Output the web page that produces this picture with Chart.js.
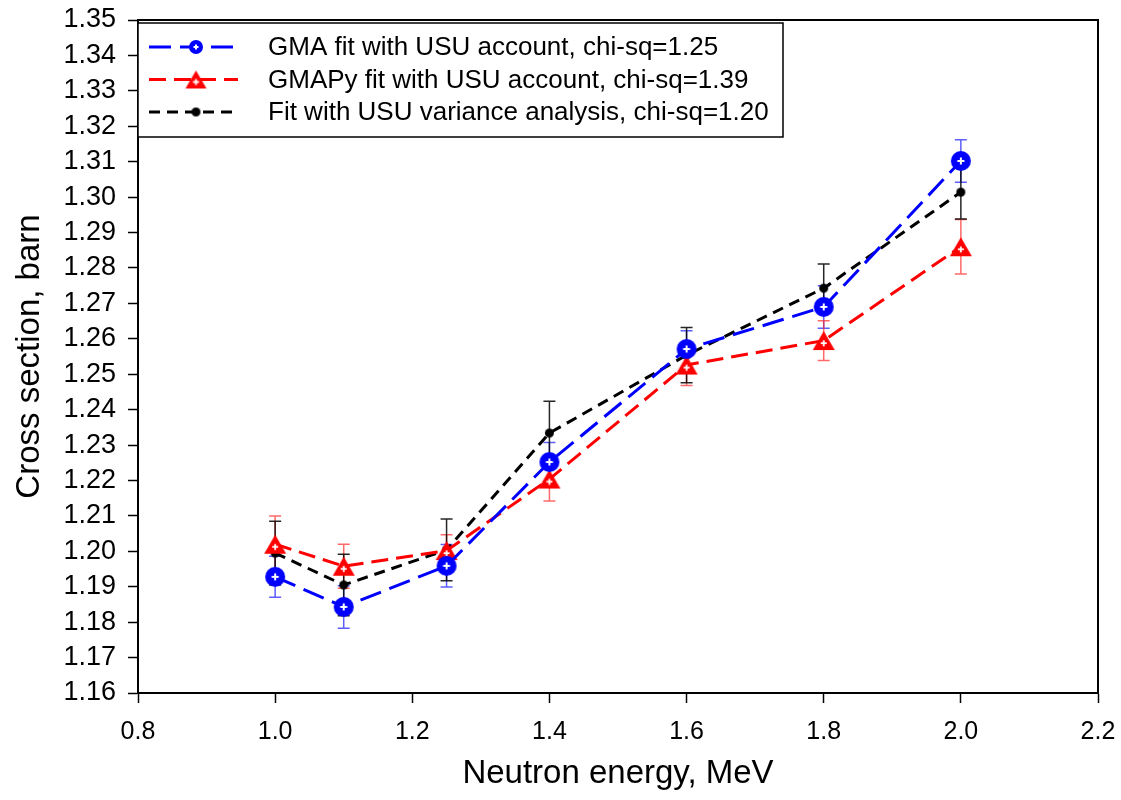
<!DOCTYPE html>
<html>
<head>
<meta charset="utf-8">
<script src="https://cdn.jsdelivr.net/npm/chart.js@4"></script>
<style>
  body { margin: 0; background: #fff; }
  #wrap { width: 1121px; height: 800px; }
</style>
</head>
<body>
<div id="wrap"><canvas id="crossChart"></canvas></div>
<script>
// neutron energies (MeV)
const energies = [1.0, 1.1, 1.25, 1.4, 1.6, 1.8, 2.0];

// GMA fit with USU account
const gmaValues = [1.1928, 1.1843, 1.1959, 1.2252, 1.2571, 1.2690, 1.3102];
const gmaErrors = [0.0058, 0.0060, 0.0060, 0.0055, 0.0052, 0.0060, 0.0060];

// GMAPy fit with USU account
const gmapyValues = [1.2020, 1.1958, 1.2002, 1.2204, 1.2526, 1.2595, 1.2860];
const gmapyErrors = [0.0080, 0.0062, 0.0045, 0.0062, 0.0058, 0.0056, 0.0077];

// Fit with USU variance analysis
const usuValues = [1.1995, 1.1905, 1.2004, 1.2334, 1.2554, 1.2743, 1.3014];
const usuErrors = [0.0090, 0.0087, 0.0087, 0.0090, 0.0078, 0.0068, 0.0076];

const legendLabels = [
    'GMA fit with USU account, chi-sq=1.25',
    'GMAPy fit with USU account, chi-sq=1.39',
    'Fit with USU variance analysis, chi-sq=1.20'
];

const FONT = '"Liberation Sans", Arial, sans-serif';

function toPoints(values) {
    return energies.map((e, i) => ({ x: e, y: values[i] }));
}

// marker images: filled shape with a small white cross
function circleMarker(r, cross) {
    const c = document.createElement('canvas');
    c.width = c.height = r * 2 + 2;
    const g = c.getContext('2d');
    const m = r + 1;
    g.fillStyle = '#0000ff';
    g.beginPath();
    g.arc(m, m, r, 0, Math.PI * 2);
    g.fill();
    g.strokeStyle = '#ffffff';
    g.lineWidth = 2;
    g.beginPath();
    g.moveTo(m - cross, m); g.lineTo(m + cross, m);
    g.moveTo(m, m - cross); g.lineTo(m, m + cross);
    g.stroke();
    return c;
}

function triangleMarker(w) {
    const h = Math.round(w * 0.85);
    const c = document.createElement('canvas');
    c.width = w + 2;
    c.height = h + 2;
    const g = c.getContext('2d');
    g.fillStyle = '#ff0000';
    g.beginPath();
    g.moveTo(w / 2 + 1, 1);
    g.lineTo(w + 1, h + 1);
    g.lineTo(1, h + 1);
    g.closePath();
    g.fill();
    const cx = w / 2 + 1, cy = h * 0.64 + 1, s = 3;
    g.strokeStyle = '#ffffff';
    g.lineWidth = 1.8;
    g.beginPath();
    g.moveTo(cx - s, cy); g.lineTo(cx + s, cy);
    g.moveTo(cx, cy - s); g.lineTo(cx, cy + s);
    g.stroke();
    return c;
}

function dotMarker(r) {
    const c = document.createElement('canvas');
    c.width = c.height = r * 2 + 2;
    const g = c.getContext('2d');
    g.fillStyle = '#000000';
    g.beginPath();
    g.arc(r + 1, r + 1, r, 0, Math.PI * 2);
    g.fill();
    return c;
}

const series = [
    { label: legendLabels[0], values: gmaValues, errors: gmaErrors, color: '#0000ff', barColor: 'rgba(40,40,255,0.75)', dash: [22, 9], mark: circleMarker(10, 3.5), legMark: circleMarker(7, 2.5) },
    { label: legendLabels[1], values: gmapyValues, errors: gmapyErrors, color: '#ff0000', barColor: 'rgba(255,40,40,0.7)', dash: [17, 8], mark: triangleMarker(22), legMark: triangleMarker(21) },
    { label: legendLabels[2], values: usuValues, errors: usuErrors, color: '#000000', barColor: 'rgba(0,0,0,0.85)', dash: [11, 7], mark: dotMarker(4.5), legMark: dotMarker(4.5) }
];

// error bars under the markers
const errorBars = {
    id: 'errorBars',
    beforeDatasetsDraw(chart) {
        const { ctx, scales: { x, y } } = chart;
        ctx.save();
        ctx.lineWidth = 1.5;
        series.forEach(s => {
            ctx.strokeStyle = s.barColor;
            energies.forEach((e, i) => {
                const px = x.getPixelForValue(e);
                const top = y.getPixelForValue(s.values[i] + s.errors[i]);
                const bot = y.getPixelForValue(s.values[i] - s.errors[i]);
                ctx.beginPath();
                ctx.moveTo(px, top); ctx.lineTo(px, bot);
                ctx.moveTo(px - 6, top); ctx.lineTo(px + 6, top);
                ctx.moveTo(px - 6, bot); ctx.lineTo(px + 6, bot);
                ctx.stroke();
            });
        });
        ctx.restore();
    }
};

// top/right frame and boxed legend
const frameAndLegend = {
    id: 'frameAndLegend',
    afterDraw(chart) {
        const { ctx, chartArea: a } = chart;
        ctx.save();
        ctx.strokeStyle = '#000';
        ctx.lineWidth = 2;
        ctx.beginPath();
        ctx.moveTo(a.left, a.top);
        ctx.lineTo(a.right, a.top);
        ctx.lineTo(a.right, a.bottom);
        ctx.stroke();

        const bx = a.left, by = a.top + 3, bw = 645, bh = 114;
        ctx.fillStyle = '#fff';
        ctx.fillRect(bx, by, bw, bh);
        ctx.lineWidth = 1.5;
        ctx.strokeRect(bx, by, bw, bh);

        series.forEach((s, i) => {
            const ly = by + 24 + i * 32.5;
            ctx.strokeStyle = s.color;
            ctx.lineWidth = 3;
            ctx.setLineDash(s.dash);
            ctx.beginPath();
            ctx.moveTo(bx + 11, ly);
            ctx.lineTo(bx + 100, ly);
            ctx.stroke();
            ctx.setLineDash([]);
            const m = s.legMark;
            ctx.drawImage(m, bx + 58 - m.width / 2, ly - m.height / 2);
            ctx.fillStyle = '#000';
            ctx.font = '26px ' + FONT;
            ctx.textBaseline = 'middle';
            ctx.fillText(s.label, bx + 130, ly + 1);
        });
        ctx.restore();
    }
};

const ctx = document.getElementById('crossChart').getContext('2d');
new Chart(ctx, {
    type: 'line',
    data: {
        datasets: series.map(s => ({
            label: s.label,
            data: toPoints(s.values),
            borderColor: s.color,
            borderWidth: 3,
            borderDash: s.dash,
            pointStyle: s.mark,
            pointRadius: 8,
            fill: false,
            tension: 0
        }))
    },
    options: {
        responsive: true,
        maintainAspectRatio: false,
        animation: false,
        layout: { padding: { top: 20, right: 23, left: 0, bottom: 0 } },
        plugins: {
            legend: { display: false },
            tooltip: { enabled: false }
        },
        scales: {
            x: {
                type: 'linear',
                min: 0.8,
                max: 2.2,
                afterFit(scale) {
                    scale.height = 107;
                    scale.paddingLeft = 0;
                    scale.paddingRight = 0;
                },
                border: { color: '#000', width: 2 },
                grid: { drawOnChartArea: false, drawTicks: true, tickLength: 10, color: '#000', tickWidth: 1.5 },
                ticks: {
                    stepSize: 0.2,
                    padding: 14,
                    maxRotation: 0,
                    autoSkip: false,
                    color: '#000',
                    font: { family: FONT, size: 25 },
                    callback: v => v.toFixed(1)
                },
                title: {
                    display: true,
                    text: 'Neutron energy, MeV',
                    color: '#000',
                    font: { family: FONT, size: 33 },
                    padding: { top: 0, bottom: 6 }
                }
            },
            y: {
                min: 1.16,
                max: 1.35,
                afterFit(scale) {
                    scale.width = 138;
                    scale.paddingTop = 0;
                    scale.paddingBottom = 0;
                },
                border: { color: '#000', width: 2 },
                grid: { drawOnChartArea: false, drawTicks: true, tickLength: 10, color: '#000', tickWidth: 1.5 },
                ticks: {
                    stepSize: 0.01,
                    padding: 12,
                    autoSkip: false,
                    color: '#000',
                    font: { family: FONT, size: 27 },
                    callback: v => v.toFixed(2)
                },
                title: {
                    display: true,
                    text: 'Cross section, barn',
                    color: '#000',
                    font: { family: FONT, size: 33 },
                    padding: { top: 10, bottom: 0 }
                }
            }
        }
    },
    plugins: [errorBars, frameAndLegend]
});
</script>
</body>
</html>
